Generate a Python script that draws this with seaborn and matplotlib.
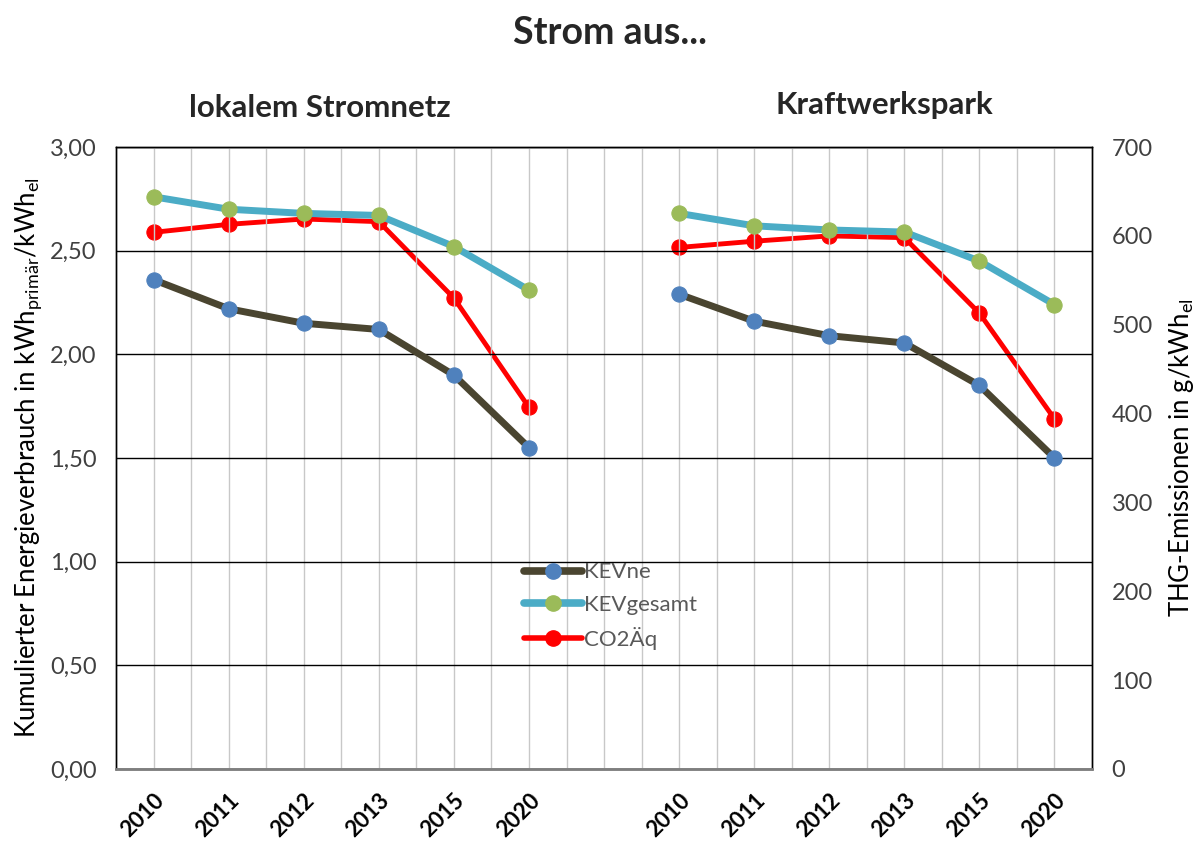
import matplotlib
matplotlib.use("Agg")
import matplotlib.pyplot as plt
from matplotlib.lines import Line2D
from matplotlib.ticker import FixedLocator, FuncFormatter
import numpy as np
import pandas as pd
import seaborn as sns

# data
years = ["2010", "2011", "2012", "2013", "2015", "2020"]
panels = ["lokalem Stromnetz", "Kraftwerkspark"]

kev_ne_lokal = [2.36, 2.22, 2.15, 2.12, 1.90, 1.55]
kev_ges_lokal = [2.76, 2.70, 2.68, 2.67, 2.52, 2.31]
co2_lokal = [604, 613, 619, 616, 530, 407]

kev_ne_kraft = [2.29, 2.16, 2.09, 2.055, 1.85, 1.50]
kev_ges_kraft = [2.68, 2.62, 2.60, 2.59, 2.45, 2.24]
co2_kraft = [587, 594, 600, 598, 513, 394]

# categories on one axis, one empty slot between the panels
labels = years + [""] + years
n_year = len(years)
pos_lokal = list(range(n_year))
pos_kraft = list(range(n_year + 1, 2 * n_year + 1))

rows = []
for pos, ne, ges, co2, panel in [
    (pos_lokal, kev_ne_lokal, kev_ges_lokal, co2_lokal, panels[0]),
    (pos_kraft, kev_ne_kraft, kev_ges_kraft, co2_kraft, panels[1]),
]:
    for i in range(n_year):
        rows.append({"x": pos[i], "panel": panel, "KEVne": ne[i],
                     "KEVgesamt": ges[i], "CO2Äq": co2[i]})
df = pd.DataFrame(rows)

sns.set_theme(style="white")
plt.rcParams["font.family"] = ["Lato", "DejaVu Sans"]
plt.rcParams["mathtext.fontset"] = "custom"
plt.rcParams["mathtext.rm"] = "Lato"
plt.rcParams["mathtext.it"] = "Lato"

fig = plt.figure(figsize=(11.94, 8.47), dpi=100)
ax = fig.add_axes([0.0972, 0.0921, 0.8174, 0.7343])
ax2 = ax.twinx()

styles = {
    "KEVne": dict(color="#4a4530", mfc="#4f81bd", lw=5),
    "KEVgesamt": dict(color="#4bacc6", mfc="#9bbb59", lw=5),
    "CO2Äq": dict(color="#ff0000", mfc="#ff0000", lw=3.5),
}

for panel in panels:
    sub = df[df["panel"] == panel]
    for col in ["KEVne", "KEVgesamt"]:
        st = styles[col]
        sns.lineplot(data=sub, x="x", y=col, ax=ax, color=st["color"], lw=st["lw"],
                     marker="o", markersize=11, markerfacecolor=st["mfc"],
                     markeredgecolor=st["mfc"], zorder=3)
    st = styles["CO2Äq"]
    sns.lineplot(data=sub, x="x", y="CO2Äq", ax=ax2, color=st["color"], lw=st["lw"],
                 marker="o", markersize=11, markerfacecolor=st["mfc"],
                 markeredgecolor=st["mfc"], zorder=3)

ax.set_xlim(-0.5, len(labels) - 0.5)
ax.set_ylim(0, 3)
ax2.set_ylim(0, 700)

ax.set_xticks(range(len(labels)))
ax.set_xticklabels(labels, rotation=45, ha="right", rotation_mode="anchor",
                   fontsize=16, fontweight="bold", color="black")
ax.tick_params(axis="x", length=0, pad=15)
ax.set_yticks(np.arange(0, 3.01, 0.5))
ax.yaxis.set_major_formatter(FuncFormatter(lambda v, p: f"{v:.2f}".replace(".", ",")))
ax.tick_params(axis="y", length=0, labelsize=17, labelcolor="#404040", pad=14)
ax2.set_yticks(np.arange(0, 701, 100))
ax2.tick_params(axis="y", length=0, labelsize=17, labelcolor="#404040", pad=14)

# gridlines: light vertical at every half category, black horizontal
ax.xaxis.set_minor_locator(FixedLocator(np.arange(-0.5, len(labels), 1.0)))
ax.grid(True, which="both", axis="x", color="#c8c8c8", lw=1, zorder=0)
ax.grid(True, which="major", axis="y", color="black", lw=1, zorder=0)
ax.tick_params(axis="x", which="minor", length=0)
ax2.grid(False)
ax.set_axisbelow(True)

for a in (ax, ax2):
    for s in a.spines.values():
        s.set_color("black")
        s.set_linewidth(1)
ax.spines["bottom"].set_color("#7f7f7f")
ax.spines["bottom"].set_linewidth(2)

ax.set_xlabel("")
ax.set_ylabel("Kumulierter Energieverbrauch in kWh$_{\\mathrm{primär}}$/kWh$_{\\mathrm{el}}$",
              fontsize=18.5, color="black", labelpad=4)
ax2.set_ylabel("THG-Emissionen in g/kWh$_{\\mathrm{el}}$", fontsize=18.5,
               color="black", labelpad=10)

fig.text(0.511, 0.961, "Strom aus...", ha="center", va="center",
         fontsize=27, fontweight="bold")
fig.text(0.268, 0.872, panels[0], ha="center", va="center",
         fontsize=22.5, fontweight="bold")
fig.text(0.741, 0.876, panels[1], ha="center", va="center",
         fontsize=22.5, fontweight="bold")

handles = [Line2D([], [], color=styles[k]["color"], lw=styles[k]["lw"] + 0.5, marker="o",
                  markersize=11, markerfacecolor=styles[k]["mfc"],
                  markeredgecolor=styles[k]["mfc"]) for k in styles]
leg = ax.legend(handles, list(styles.keys()), loc="center left",
                bbox_to_anchor=(0.398, 0.262), frameon=False, fontsize=16,
                handlelength=2.6, handletextpad=0.1, labelspacing=0.55)
for t in leg.get_texts():
    t.set_color("#595959")
leg.set_zorder(5)
ax.set_zorder(ax2.get_zorder() + 1)
ax.patch.set_visible(False)

fig.savefig("out.png", dpi=100)
